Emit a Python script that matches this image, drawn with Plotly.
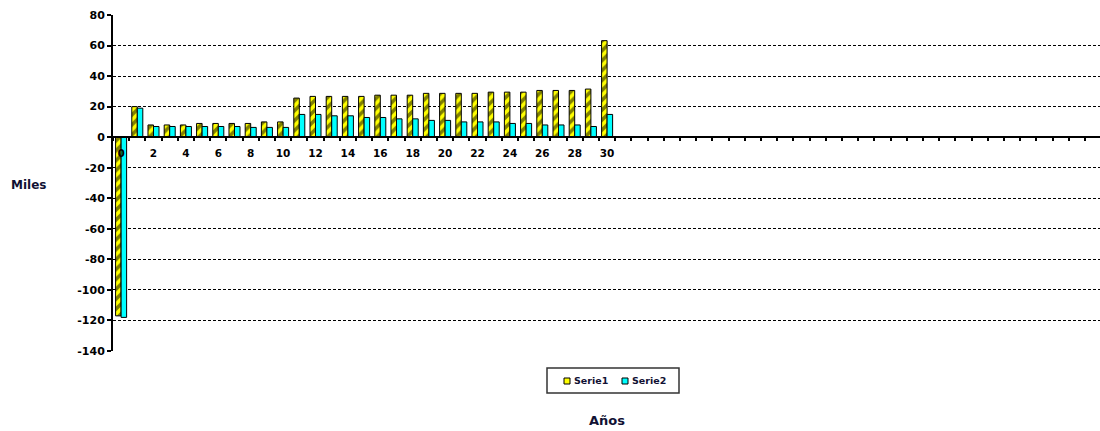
import plotly.graph_objects as go

# Year index and the two yearly series (thousands)
years = list(range(0, 31))
serie1 = [-117, 20, 8, 8, 8, 9, 9, 9, 9, 10, 10, 25.6, 26.7, 26.7, 26.7, 26.7,
          27.5, 27.5, 27.5, 28.7, 28.7, 28.7, 28.7, 29.5, 29.5, 29.5, 30.6,
          30.6, 30.6, 31.5, 63.2]
serie2 = [-118, 19, 7, 7, 7, 7, 7, 7, 6.4, 6.4, 6.4, 14.9, 14.9, 14, 14, 12.9,
          12.9, 12, 12, 11, 11, 10, 10, 10, 9, 9, 8, 8, 8, 7, 14.9]
series_names = ["Serie1", "Serie2"]
tick_years = list(range(0, 31, 2))
tick_labels = [str(v) for v in tick_years]
y_ticks = list(range(-140, 81, 20))
y_labels = [str(v) for v in y_ticks]  # plain hyphen-minus
n_slots = 61  # category slots on the axis (0..60)

Y_MIN, Y_MAX = -140, 80

# page geometry (px)
W, H = 1100, 431
ML, MR, MT, MB = 113, 0, 15, 80
PW, PH = W - ML - MR, H - MT - MB
SLOT_PX = 16.2


def px_x(x):
    return (x - ML) / PW


def px_y(y):
    return (H - MB - y) / PH


FONT = "DejaVu Sans, Verdana, sans-serif"
TEXT = "#111133"
YELLOW, CYAN = "#FFFF00", "#00FFFF"

fig = go.Figure()
fig.add_trace(go.Bar(
    x=years, y=serie1, name=series_names[0], showlegend=False,
    marker=dict(color=YELLOW,
                line=dict(color="black", width=1),
                pattern=dict(shape="/", fgcolor="black", bgcolor=YELLOW,
                             size=7, solidity=0.5)),
))
fig.add_trace(go.Bar(
    x=years, y=serie2, name=series_names[1], showlegend=False,
    marker=dict(color=CYAN, line=dict(color="black", width=1)),
))

# boxed key below the plot: frame, two small swatches and their names
shapes = [dict(type="rect", xref="paper", yref="paper",
               x0=px_x(547), x1=px_x(679), y0=px_y(368), y1=px_y(393),
               line=dict(color="#333", width=1.5), fillcolor="white")]
annotations = []
for name, col, sx in zip(series_names, (YELLOW, CYAN), (564, 622)):
    shapes.append(dict(type="rect", xref="paper", yref="paper",
                       x0=px_x(sx), x1=px_x(sx + 6),
                       y0=px_y(378), y1=px_y(384),
                       line=dict(color="black", width=1), fillcolor=col))
    annotations.append(dict(text=name, x=px_x(sx + 8), y=px_y(381),
                            xref="paper", yref="paper",
                            xanchor="left", yanchor="middle",
                            showarrow=False,
                            font=dict(size=9.5, family=FONT, color=TEXT,
                                      weight="bold")))

annotations += [
    dict(text="Miles", x=px_x(28), y=px_y(185),
         xref="paper", yref="paper", xanchor="center", yanchor="middle",
         showarrow=False,
         font=dict(size=12, family=FONT, color=TEXT, weight="bold")),
    dict(text="Años", x=px_x(607), y=px_y(420),
         xref="paper", yref="paper", xanchor="center", yanchor="middle",
         showarrow=False,
         font=dict(size=13, family=FONT, color=TEXT, weight="bold")),
]

fig.update_layout(
    width=W, height=H,
    margin=dict(l=ML, r=MR, t=MT, b=MB, pad=0),
    paper_bgcolor="white", plot_bgcolor="white",
    barmode="group", bargap=0.32, bargroupgap=0,
    font=dict(family=FONT, color="black"),
    showlegend=False,
    xaxis=dict(
        range=[-0.5, -0.5 + PW / SLOT_PX],
        anchor="free", position=(0 - Y_MIN) / (Y_MAX - Y_MIN),
        showline=True, linecolor="black", linewidth=2,
        tickmode="array", tickvals=tick_years, ticktext=tick_labels,
        ticks="", showgrid=False, zeroline=False,
        ticklabelstandoff=6,
        tickfont=dict(size=10.5, family=FONT, color="black", weight="bold"),
        minor=dict(tickmode="array",
                   tickvals=[k - 0.5 for k in range(n_slots + 1)],
                   ticks="outside", ticklen=3, tickwidth=2,
                   tickcolor="black", showgrid=False),
    ),
    yaxis=dict(
        range=[Y_MIN, Y_MAX],
        tickmode="array", tickvals=y_ticks, ticktext=y_labels,
        showline=True, linecolor="black", linewidth=2,
        ticks="outside", ticklen=4, tickwidth=2, tickcolor="black",
        showgrid=True, gridcolor="black", gridwidth=1, griddash="3px,2px",
        zeroline=False,
        tickfont=dict(size=11, family=FONT, color="black", weight="bold"),
    ),
    shapes=shapes,
    annotations=annotations,
)

fig.write_html("out.html")
